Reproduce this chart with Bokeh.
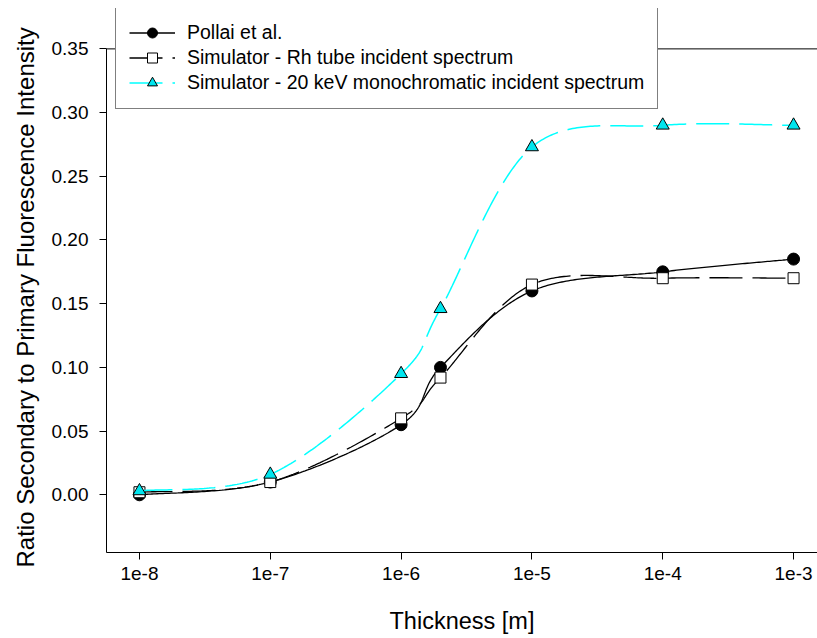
import numpy as np
from bokeh.plotting import figure
from bokeh.models import (Range1d, FixedTicker, NumeralTickFormatter, CustomJSTickFormatter,
                          Legend, LegendItem, Span, Title)
from bokeh.embed import file_html
from bokeh.resources import INLINE

# ---- data ----
thickness = [1e-8, 1e-7, 1e-6, 2e-6, 1e-5, 1e-4, 1e-3]
pollai = [0.000, 0.010, 0.055, 0.100, 0.160, 0.175, 0.185]
sim_rh = [0.002, 0.010, 0.060, 0.092, 0.165, 0.170, 0.170]
sim_20kev = [0.003, 0.016, 0.095, 0.146, 0.273, 0.290, 0.290]
labels = ["Pollai et al.",
          "Simulator - Rh tube incident spectrum",
          "Simulator - 20 keV monochromatic incident spectrum"]
x_tick_values = [1e-8, 1e-7, 1e-6, 1e-5, 1e-4, 1e-3]
y_tick_values = [0.00, 0.05, 0.10, 0.15, 0.20, 0.25, 0.30, 0.35]
x_title = "Thickness [m]"
y_title = "Ratio Secondary to Primary Fluorescence Intensity"

FONT = "Liberation Sans"
Y_MIN, Y_TOP_AXIS, Y_MAX = -0.0453, 0.35, 0.3817


def smooth_curve(xs, ys, n_per_seg=60):
    """Catmull-Rom drawing curve through the data points, in (log10 x, y)."""
    P = np.column_stack([np.log10(np.asarray(xs, float)), np.asarray(ys, float)])
    m = len(P)
    T = np.zeros_like(P)
    for i in range(m):
        a = P[max(i - 1, 0)]
        b = P[min(i + 1, m - 1)]
        T[i] = (b - a) / 2.0
    out = []
    for i in range(m - 1):
        t = np.linspace(0, 1, n_per_seg, endpoint=(i == m - 2))[:, None]
        h00 = 2 * t ** 3 - 3 * t ** 2 + 1
        h10 = t ** 3 - 2 * t ** 2 + t
        h01 = -2 * t ** 3 + 3 * t ** 2
        h11 = t ** 3 - t ** 2
        out.append(h00 * P[i] + h10 * T[i] + h01 * P[i + 1] + h11 * T[i + 1])
    out = np.vstack(out)
    return list(10 ** out[:, 0]), list(out[:, 1])


p = figure(width=817, height=638, x_axis_type="log",
           x_range=Range1d(10 ** -8.252, 10 ** -2.817),
           y_range=Range1d(Y_MIN, Y_MAX),
           output_backend="svg", toolbar_location=None,
           min_border_left=106, min_border_right=0,
           min_border_top=8, min_border_bottom=86)
p.outline_line_color = None
p.xgrid.visible = False
p.ygrid.visible = False
p.background_fill_color = "white"
p.border_fill_color = "white"

# axes
p.xaxis.ticker = FixedTicker(ticks=x_tick_values, minor_ticks=[])
p.xaxis.formatter = CustomJSTickFormatter(code="return '1e' + Math.round(Math.log10(tick));")
p.yaxis.ticker = FixedTicker(ticks=y_tick_values, minor_ticks=[])
p.yaxis.formatter = NumeralTickFormatter(format="0.00")
p.yaxis.bounds = (Y_MIN, Y_TOP_AXIS)
p.xaxis.axis_label = x_title
for ax in (p.xaxis, p.yaxis):
    ax.axis_line_color = "black"
    ax.axis_line_width = 1
    ax.major_tick_line_color = "black"
    ax.major_tick_in = 0
    ax.major_tick_out = 7
    ax.minor_tick_line_color = None
    ax.major_label_text_font = FONT
    ax.major_label_text_font_size = "19px"
    ax.major_label_text_color = "black"
    ax.axis_label_text_font = FONT
    ax.axis_label_text_font_size = "23.5px"
    ax.axis_label_text_font_style = "normal"
    ax.axis_label_text_color = "black"
p.yaxis.major_label_standoff = 11
p.xaxis.major_label_standoff = 7
p.xaxis.axis_label_standoff = 25

# y axis title, centred on the 0.35-bounded axis
p.add_layout(Title(text=y_title, align="left", offset=-15, text_font=FONT,
                   text_font_size="24px", text_font_style="normal",
                   text_color="black", standoff=19), "left")

# top frame line
p.add_layout(Span(location=Y_TOP_AXIS, dimension="width", line_color="black", line_width=1))

# series
items = []
xs, ys = smooth_curve(thickness, pollai)
l1 = p.line(xs, ys, line_color="black", line_width=1.3)
m1 = p.scatter(thickness, pollai, marker="circle", size=12, fill_color="black",
               line_color="black", line_width=1)
items.append(LegendItem(label=labels[0], renderers=[l1, m1]))

xs, ys = smooth_curve(thickness, sim_rh)
l2 = p.line(xs, ys, line_color="black", line_width=1.3, line_dash="33 10")
m2 = p.scatter(thickness, sim_rh, marker="square", size=11, fill_color="white",
               line_color="black", line_width=1)
items.append(LegendItem(label=labels[1], renderers=[l2, m2]))

xs, ys = smooth_curve(thickness, sim_20kev)
l3 = p.line(xs, ys, line_color="#00FFFF", line_width=1.5, line_dash="33 10")
m3 = p.scatter(thickness, sim_20kev, marker="triangle", size=13, fill_color="#00E5EE",
               line_color="black", line_width=1)
items.append(LegendItem(label=labels[2], renderers=[l3, m3]))

legend = Legend(items=items, location=(9, 443))
legend.label_text_font = FONT
legend.label_text_font_size = "19.5px"
legend.label_text_color = "black"
legend.border_line_color = "black"
legend.border_line_width = 1
legend.background_fill_color = "white"
legend.background_fill_alpha = 1.0
legend.padding = 13
legend.spacing = 0
legend.margin = 0
legend.glyph_width = 46
legend.glyph_height = 25
legend.label_height = 25
legend.label_standoff = 12
p.add_layout(legend)

open("out.html", "w").write(file_html(p, INLINE))
